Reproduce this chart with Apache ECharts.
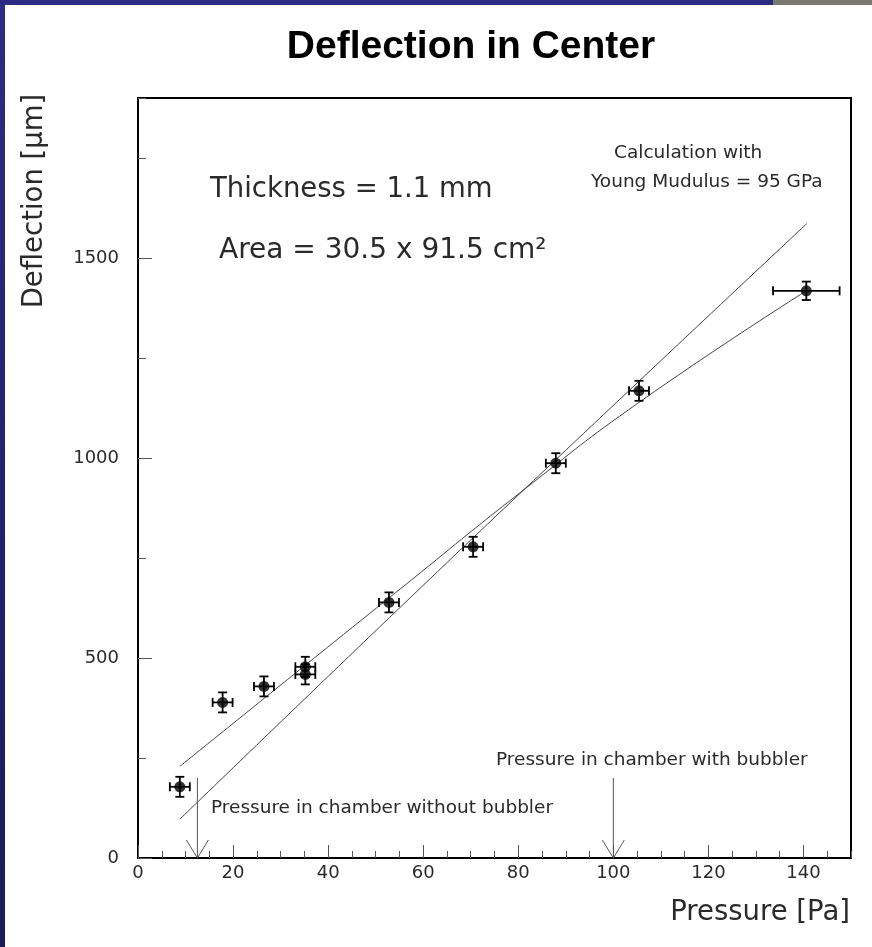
<!DOCTYPE html>
<html>
<head>
<meta charset="utf-8">
<script src="https://cdn.jsdelivr.net/npm/echarts@6/dist/echarts.min.js"></script>
<style>
html,body{margin:0;padding:0;background:#fff;}
#chart{width:872px;height:947px;}
</style>
</head>
<body>
<div id="chart"></div>
<script>
// ---- data ----
const pressure   = [8.8, 17.8, 26.5, 35.2, 35.2, 52.8, 70.5, 87.9, 105.4, 140.6];
const deflection = [178, 389, 429, 478, 459, 639, 778, 987, 1168, 1418];
const pressureErr   = [2.1, 2.1, 2.1, 2.1, 2.1, 2.1, 2.1, 2.1, 2.1, 7.0];
const deflectionErr = [25, 25, 25, 25, 25, 25, 25, 25, 25, 23];

// calculation curve (Young modulus = 95 GPa)
const calcX = [8.8, 55.1, 88.8, 140.7];
const calcY = [97, 626, 1006, 1586];
// curve through the measurements
const fitX = [8.8, 35.2, 55.1, 81, 105.4, 140.6];
const fitY = [229, 482, 672, 919, 1139, 1418];

// arrows marking chamber pressures
const arrowX = [12.5, 100];
const arrowTop = [200, 200];

const xTicks = {min: 0, max: 150, major: 20, minor: 5};
const yTicks = {min: 0, max: 1900, major: 500, minor: 250};

const chart = echarts.init(document.getElementById('chart'), null, {renderer: 'canvas'});

const FONT = 'DejaVu Sans';
const TXT = '#2a2a2a';

const pts = pressure.map((p, i) => [p, deflection[i], pressureErr[i], deflectionErr[i]]);

const option = {
  backgroundColor: '#ffffff',
  animation: false,
  grid: {
    left: 138, right: 21, top: 98, bottom: 89,
    show: true, borderColor: '#000', borderWidth: 2, backgroundColor: '#fff'
  },
  xAxis: [
    {
      type: 'value', min: xTicks.min, max: xTicks.max, interval: xTicks.major, position: 'bottom',
      axisLine: {show: false},
      axisTick: {show: true, inside: true, length: 13, lineStyle: {color: '#555', width: 1}},
      axisLabel: {show: true, fontFamily: FONT, fontSize: 18, color: TXT, margin: 6, showMaxLabel: false,
        formatter: v => String(v)},
      splitLine: {show: false}
    },
    {
      type: 'value', min: xTicks.min, max: xTicks.max, interval: xTicks.minor, position: 'bottom',
      axisLine: {show: false},
      axisTick: {show: true, inside: true, length: 7, lineStyle: {color: '#555', width: 1}},
      axisLabel: {show: false},
      splitLine: {show: false}
    }
  ],
  yAxis: [
    {
      type: 'value', min: yTicks.min, max: yTicks.max, interval: yTicks.major, position: 'left',
      axisLine: {show: false},
      axisTick: {show: true, inside: true, length: 14, lineStyle: {color: '#555', width: 1}},
      axisLabel: {show: true, fontFamily: FONT, fontSize: 18, color: TXT, margin: 19, showMaxLabel: false,
        formatter: v => String(v)},
      splitLine: {show: false}
    },
    {
      type: 'value', min: yTicks.min, max: yTicks.max, interval: yTicks.minor, position: 'left',
      axisLine: {show: false},
      axisTick: {show: true, inside: true, length: 8, lineStyle: {color: '#555', width: 1}},
      axisLabel: {show: false},
      splitLine: {show: false}
    }
  ],
  graphic: [
    {type: 'rect', left: 0, top: 0, shape: {width: 5, height: 947},
      style: {fill: new echarts.graphic.LinearGradient(0, 0, 0, 1, [{offset: 0, color: '#2c2b85'}, {offset: 1, color: '#1d1a5c'}])}, z: 100},
    {type: 'rect', left: 0, top: 0, shape: {width: 773, height: 5}, style: {fill: '#2b2a84'}, z: 100},
    {type: 'rect', left: 773, top: 0, shape: {width: 99, height: 5}, style: {fill: '#7b7a72'}, z: 100},
    {type: 'text', x: 471, y: 47, style: {text: 'Deflection in Center', font: 'bold 39px "Liberation Sans", Arial, sans-serif', fill: '#000', textAlign: 'center', textVerticalAlign: 'middle'}, z: 50},
    {type: 'text', x: 210, y: 190, style: {text: 'Thickness = 1.1 mm', font: '27.5px "DejaVu Sans"', fill: TXT, textAlign: 'left', textVerticalAlign: 'middle'}, z: 50},
    {type: 'text', x: 219, y: 251, style: {text: 'Area = 30.5 x 91.5 cm²', font: '28px "DejaVu Sans"', fill: TXT, textAlign: 'left', textVerticalAlign: 'middle'}, z: 50},
    {type: 'text', x: 614, y: 153, style: {text: 'Calculation with', font: '18.5px "DejaVu Sans"', fill: TXT, textAlign: 'left', textVerticalAlign: 'middle'}, z: 50},
    {type: 'text', x: 591, y: 182, style: {text: 'Young Mudulus = 95 GPa', font: '18.5px "DejaVu Sans"', fill: TXT, textAlign: 'left', textVerticalAlign: 'middle'}, z: 50},
    {type: 'text', x: 496, y: 760, style: {text: 'Pressure in chamber with bubbler', font: '18.5px "DejaVu Sans"', fill: TXT, textAlign: 'left', textVerticalAlign: 'middle'}, z: 50},
    {type: 'text', x: 211, y: 808, style: {text: 'Pressure in chamber without bubbler', font: '18.5px "DejaVu Sans"', fill: TXT, textAlign: 'left', textVerticalAlign: 'middle'}, z: 50},
    {type: 'text', x: 850, y: 913, style: {text: 'Pressure [Pa]', font: '27.5px "DejaVu Sans"', fill: TXT, textAlign: 'right', textVerticalAlign: 'middle'}, z: 50},
    {type: 'text', x: 35, y: 201, rotation: Math.PI / 2, style: {text: 'Deflection [μm]', font: '27.5px "DejaVu Sans"', fill: TXT, textAlign: 'center', textVerticalAlign: 'middle'}, z: 50}
  ],
  series: [
    {
      type: 'line', name: 'calculation', xAxisIndex: 0, yAxisIndex: 0,
      data: calcX.map((x, i) => [x, calcY[i]]),
      smooth: true, symbol: 'none', lineStyle: {color: '#444', width: 1}, z: 2
    },
    {
      type: 'line', name: 'fit', xAxisIndex: 0, yAxisIndex: 0,
      data: fitX.map((x, i) => [x, fitY[i]]),
      smooth: true, symbol: 'none', lineStyle: {color: '#444', width: 1}, z: 2
    },
    {
      type: 'custom', name: 'arrows', xAxisIndex: 0, yAxisIndex: 0,
      data: arrowX.map((x, i) => [x, arrowTop[i]]),
      renderItem: function (params, api) {
        const x = api.value(0), top = api.value(1);
        const pTop = api.coord([x, top]);
        const pBot = api.coord([x, 0]);
        const st = {stroke: '#555', lineWidth: 1, fill: null};
        return {
          type: 'group', children: [
            {type: 'line', shape: {x1: pTop[0], y1: pTop[1], x2: pBot[0], y2: pBot[1]}, style: st},
            {type: 'polyline', shape: {points: [[pBot[0] - 11, pBot[1] - 18], [pBot[0], pBot[1]], [pBot[0] + 11, pBot[1] - 18]]}, style: st}
          ]
        };
      },
      z: 3
    },
    {
      type: 'custom', name: 'errors', xAxisIndex: 0, yAxisIndex: 0,
      data: pts,
      renderItem: function (params, api) {
        const x = api.value(0), y = api.value(1), ex = api.value(2), ey = api.value(3);
        const l = api.coord([x - ex, y]), r = api.coord([x + ex, y]);
        const t = api.coord([x, y + ey]), b = api.coord([x, y - ey]);
        const c = 4.5;
        const st = {stroke: '#000', lineWidth: 1.8};
        return {
          type: 'group', children: [
            {type: 'line', shape: {x1: l[0], y1: l[1], x2: r[0], y2: r[1]}, style: st},
            {type: 'line', shape: {x1: t[0], y1: t[1], x2: b[0], y2: b[1]}, style: st},
            {type: 'line', shape: {x1: l[0], y1: l[1] - c, x2: l[0], y2: l[1] + c}, style: st},
            {type: 'line', shape: {x1: r[0], y1: r[1] - c, x2: r[0], y2: r[1] + c}, style: st},
            {type: 'line', shape: {x1: t[0] - c, y1: t[1], x2: t[0] + c, y2: t[1]}, style: st},
            {type: 'line', shape: {x1: b[0] - c, y1: b[1], x2: b[0] + c, y2: b[1]}, style: st}
          ]
        };
      },
      z: 4
    },
    {
      type: 'scatter', name: 'data', xAxisIndex: 0, yAxisIndex: 0,
      data: pts.map(p => [p[0], p[1]]),
      symbol: 'circle', symbolSize: 11, itemStyle: {color: '#000'}, z: 5
    }
  ]
};
chart.setOption(option);
</script>
</body>
</html>
